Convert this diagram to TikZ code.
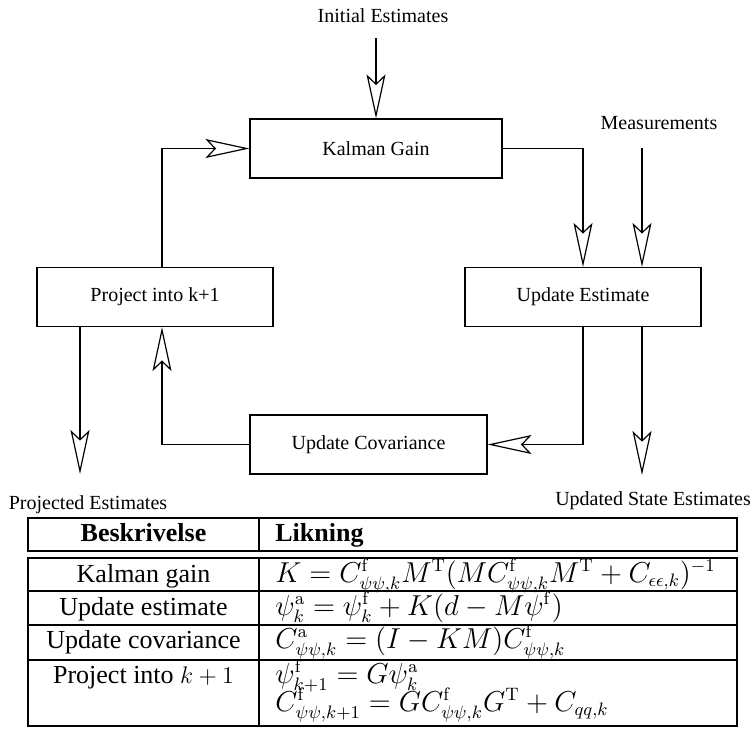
\documentclass[tikz,border=0pt]{standalone}
\usepackage{amsmath}
\usepackage[no-math]{fontspec}
\setmainfont{Liberation Serif}
\usetikzlibrary{arrows.meta}
\newcommand{\fore}{\mathrm{f}}
\newcommand{\ana}{\mathrm{a}}
\newcommand{\trn}{\mathrm{T}}
\newcommand{\Cpsi}[2]{C^{#1}_{\psi\psi,#2}}

\begin{document}
\begin{tikzpicture}[x=0.5pt,y=-0.5pt,
	box/.style={draw, line width=0.6pt, minimum height=29.5pt,
		font=\fontsize{10}{12}\selectfont},
	lbl/.style={font=\fontsize{10}{12}\selectfont},
	flow/.style={line width=0.6pt,
		-{Stealth[open,length=22pt,width=9.5pt,inset=4.5pt]}},
	cell/.style={anchor=base, inner sep=0pt,
		font=\fontsize{13}{15.6}\selectfont},
	eqn/.style={cell, anchor=base west,
		font=\fontsize{13.5}{16}\selectfont},
	rule/.style={line width=0.6pt}]
	\useasboundingbox (0,0) rectangle (753,728);

	% the loop
	\node [box, minimum width=126pt] (1) at (376,148.5)
		{Kalman Gain};
	\node [box, minimum width=118pt] (2) at (583,297)
		{Update Estimate};
	\node [box, minimum width=118pt] (3) at (155,297)
		{Project into k+1};
	\node [box, minimum width=118.5pt] (4) at (368.5,444.5)
		{Update Covariance};

	% inputs and outputs
	\node [lbl] (5) at (383,16) {Initial Estimates};
	\node [lbl] (6) at (659,123) {Measurements};
	\node [lbl] (7) at (88,505) {Projected Estimates};
	\node [lbl] (8) at (653,501) {Updated State Estimates};
	\coordinate (i) at (376,38);
	\coordinate (m) at (642,148);
	\coordinate (l) at (162,149);
	\coordinate (p) at (80,474);
	\coordinate (u) at (642,475);

	\draw [flow] (i) -- (i |- 1.north);
	\draw [flow] (m) -- (m |- 2.north);
	\draw [flow] (1.east) -| (2.north);
	\draw [flow] (2.south) |- (4.east);
	\draw [flow] (4.west) -| (3.south -| l);
	\draw [flow] (3.north -| l) |- (1.west);
	\draw [flow] (3.south -| p) -- (p);
	\draw [flow] (m |- 2.south) -- (u);

	% the table
	\draw [rule] (28,518) rectangle (737,551) (259,518) -- (259,551);
	\draw [rule] (28,558) rectangle (737,726) (259,558) -- (259,726);
	\foreach \y in {591,625,660}
		\draw [rule] (28,\y) -- (737,\y);

	\node [cell] (h1) at (143.5,541) {\textbf{Beskrivelse}};
	\node [cell, anchor=base west] (h2) at (275,541) {\textbf{Likning}};
	\node [cell] (r1) at (143.5,582) {Kalman gain};
	\node [cell] (r2) at (143.5,615) {Update estimate};
	\node [cell] (r3) at (143.5,648) {Update covariance};
	\node [cell] (r4) at (143.5,683) {Project into $k+1$};
	\node [eqn] (e1) at (275,582)
		{ $ K = \Cpsi{\fore}{k} M^{\trn}
			( M \Cpsi{\fore}{k} M^{\trn}
			+ C_{\epsilon\epsilon,k} )^{-1} $ };
	\node [eqn] (e2) at (275,615)
		{ $ \psi^{\ana}_k = \psi^{\fore}_k + K ( d - M \psi^{\fore} ) $ };
	\node [eqn] (e3) at (275,648)
		{ $ \Cpsi{\ana}{k} = ( I - KM ) \Cpsi{\fore}{k} $ };
	\node [eqn] (e4) at (275,683)
		{ $ \psi^{\fore}_{k+1} = G \psi^{\ana}_k $ };
	\node [eqn] (e5) at (275,711)
		{ $ \Cpsi{\fore}{k+1} = G \Cpsi{\fore}{k} G^{\trn} + C_{qq,k} $ };
\end{tikzpicture}
\end{document}
